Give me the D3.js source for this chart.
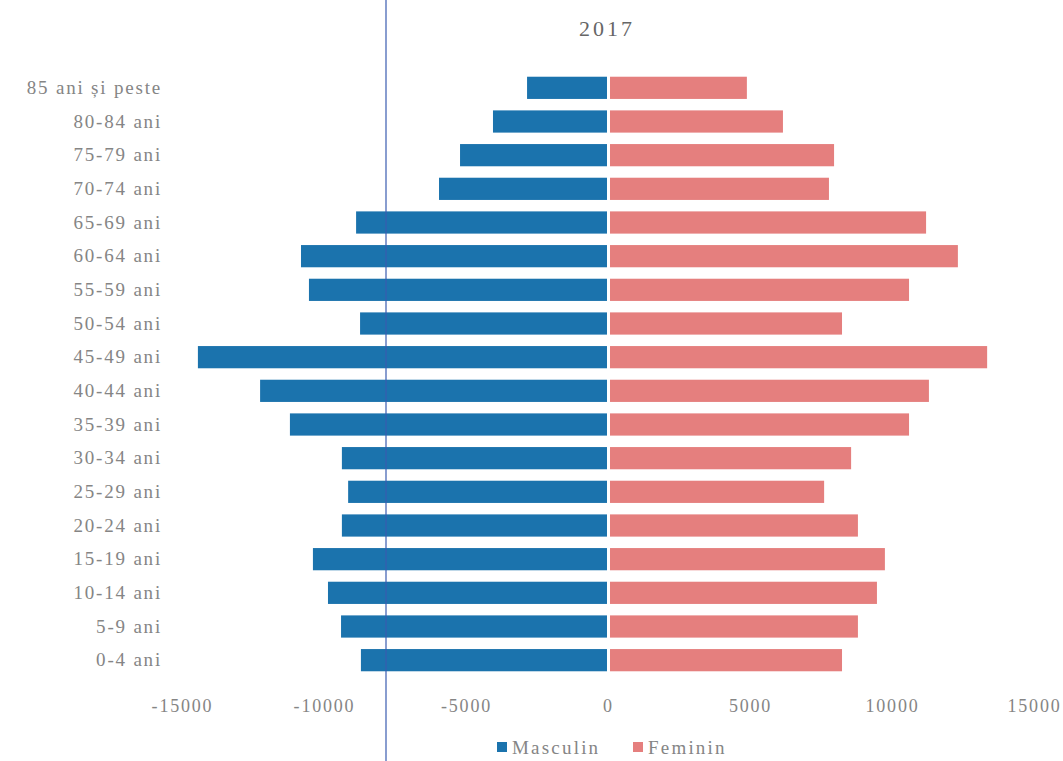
<!DOCTYPE html>
<html>
<head>
<meta charset="utf-8">
<script src="https://cdn.jsdelivr.net/npm/d3@7"></script>
<style>
    body { margin: 0; background: #fff; }
    text { font-family: "Liberation Serif", "DejaVu Serif", serif; }
</style>
</head>
<body>
<script>
// age groups, top to bottom
const ageGroups = ["85 ani și peste", "80-84 ani", "75-79 ani", "70-74 ani", "65-69 ani",
    "60-64 ani", "55-59 ani", "50-54 ani", "45-49 ani", "40-44 ani", "35-39 ani",
    "30-34 ani", "25-29 ani", "20-24 ani", "15-19 ani", "10-14 ani", "5-9 ani", "0-4 ani"];

const masculin = [2850, 4050, 5210, 5950, 8870, 10810, 10530, 8730, 14440, 12250,
    11200, 9370, 9150, 9370, 10390, 9860, 9400, 8700];

const feminin = [4890, 6160, 7960, 7780, 11200, 12320, 10600, 8240, 13350, 11300,
    10600, 8560, 7610, 8800, 9750, 9470, 8800, 8240];

const xTicks = [-15000, -10000, -5000, 0, 5000, 10000, 15000];

const width = 1063, height = 761;
const grey = "#858585";

const svg = d3.select("body").append("svg")
    .attr("width", width)
    .attr("height", height);

//Scales
const x = d3.scaleLinear()
    .domain([-15000, 15000])
    .range([182, 1034]);

const y = d3.scaleBand()
    .domain(ageGroups)
    .range([71, 677])
    .paddingInner(0.34)
    .paddingOuter(0.17);

const blue = "#1b73ad", pink = "#e57f7e";

//Title
svg.append("text")
    .attr("x", 607)
    .attr("y", 36)
    .attr("text-anchor", "middle")
    .attr("font-size", 22)
    .attr("letter-spacing", 3)
    .attr("fill", "#666")
    .text("2017");

//Bars
const g = svg.append("g");

g.selectAll("rect.m")
    .data(masculin)
    .enter()
    .append("rect")
    .attr("class", "m")
    .attr("x", d => x(-d))
    .attr("y", (d, i) => y(ageGroups[i]))
    .attr("width", d => x(0) - 1 - x(-d))
    .attr("height", y.bandwidth())
    .attr("fill", blue);

g.selectAll("rect.f")
    .data(feminin)
    .enter()
    .append("rect")
    .attr("class", "f")
    .attr("x", x(0) + 2)
    .attr("y", (d, i) => y(ageGroups[i]))
    .attr("width", d => x(d) - x(0) - 2)
    .attr("height", y.bandwidth())
    .attr("fill", pink);

//Category labels
const yAxis = svg.append("g")
    .attr("transform", "translate(162,0)")
    .call(d3.axisLeft(y).tickSize(0).tickPadding(0));
yAxis.select(".domain").remove();
yAxis.selectAll("text")
    .attr("font-size", 19)
    .attr("letter-spacing", 1.8)
    .attr("fill", grey)
    .style("font-family", "'Liberation Serif', serif");

//Value axis, labels only
const xAxis = svg.append("g")
    .attr("transform", "translate(0,699)")
    .call(d3.axisBottom(x).tickValues(xTicks).tickSize(0).tickPadding(0)
        .tickFormat(d => String(d)));
xAxis.select(".domain").remove();
xAxis.selectAll("text")
    .attr("font-size", 18)
    .attr("letter-spacing", 1.8)
    .attr("fill", grey)
    .style("font-family", "'Liberation Serif', serif");

//Legend
const legend = svg.append("g").attr("transform", "translate(497,754)");
const items = [{name: "Masculin", color: blue, dx: 0}, {name: "Feminin", color: pink, dx: 136}];
items.forEach(it => {
    legend.append("rect")
        .attr("x", it.dx)
        .attr("y", -12)
        .attr("width", 10)
        .attr("height", 10)
        .attr("fill", it.color);
    legend.append("text")
        .attr("x", it.dx + 15)
        .attr("y", 0)
        .attr("font-size", 19)
        .attr("letter-spacing", 2.2)
        .attr("fill", grey)
        .text(it.name);
});

//Vertical ruled line from the scanned page
svg.append("line")
    .attr("x1", 386).attr("x2", 386)
    .attr("y1", 0).attr("y2", height)
    .attr("stroke", "#3a5cb0")
    .attr("stroke-width", 1.2);
</script>
</body>
</html>
